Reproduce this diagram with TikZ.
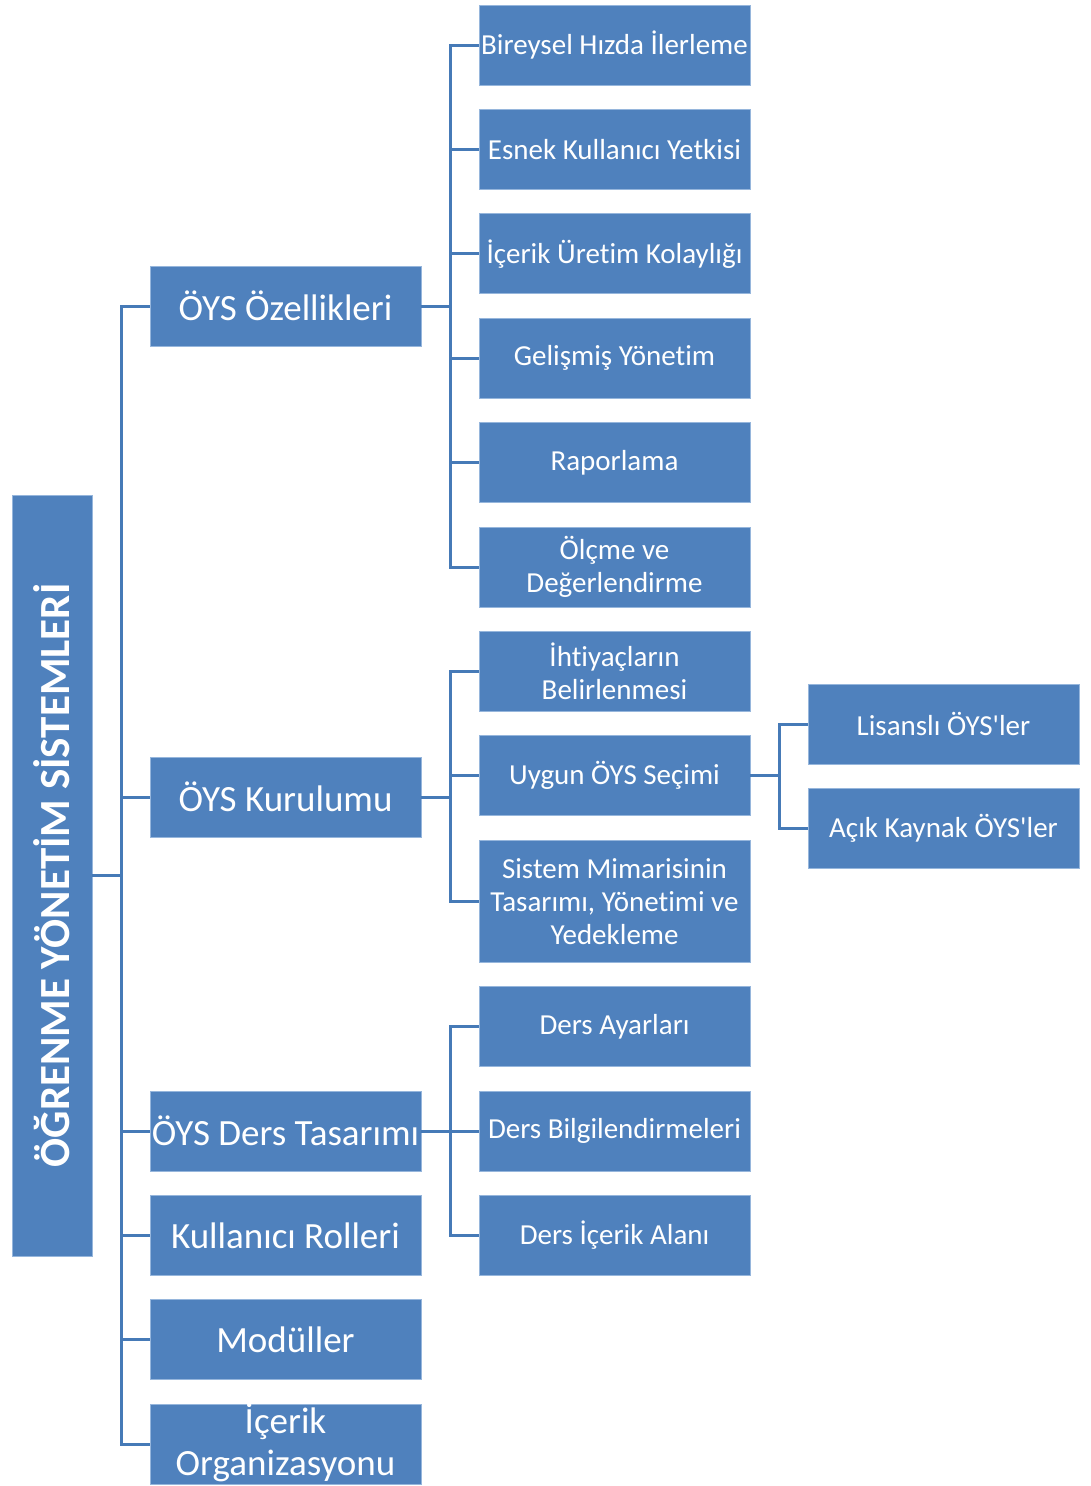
\documentclass[tikz,border=0pt]{standalone}
\usepackage{fontspec}
\setmainfont{Carlito}[Ligatures={TeXOff,CommonOff}]
\usetikzlibrary{positioning}
\definecolor{oysblue}{RGB}{79,129,189}
\definecolor{linkblue}{RGB}{70,122,183}
\definecolor{rimblue}{RGB}{150,182,220}
\tikzset{
  box/.style={fill=oysblue, draw=rimblue, line width=0.8pt, text=white, align=center,
    minimum width=271pt, minimum height=80pt, inner xsep=0pt, inner ysep=0pt},
  topbox/.style={box, font=\fontsize{37}{42}\selectfont},
  subbox/.style={box, font=\fontsize{29}{33}\selectfont},
  link/.style={draw=linkblue, line width=3pt},
}
\begin{document}
\begin{tikzpicture}[x=1pt,y=-1pt]
\useasboundingbox (0,0) rectangle (1091,1486);
% root
\node[box, rotate=90, minimum width=761pt, font=\bfseries\fontsize{43}{46}\selectfont] (root) at (52,875.5) {ÖĞRENME YÖNETİM SİSTEMLERİ};
% second column
\node[subbox] (bir) at (614.5,45) {Bireysel Hızda İlerleme};
\node[subbox, below=23.6pt of bir] (esn) {Esnek Kullanıcı Yetkisi};
\node[subbox, below=23.6pt of esn] (ure) {İçerik Üretim Kolaylığı};
\node[subbox, below=23.6pt of ure] (gel) {Gelişmiş Yönetim};
\node[subbox, below=23.6pt of gel] (rap) {Raporlama};
\node[subbox, below=23.6pt of rap] (olc) {Ölçme ve\\Değerlendirme};
\node[subbox, below=23.6pt of olc] (iht) {İhtiyaçların\\Belirlenmesi};
\node[subbox, below=23.6pt of iht] (uyg) {Uygun ÖYS Seçimi};
\node[subbox, below=23.6pt of uyg, minimum height=122pt] (sis) {Sistem Mimarisinin\\Tasarımı, Yönetimi ve\\Yedekleme};
\node[subbox, below=23.6pt of sis] (aya) {Ders Ayarları};
\node[subbox, below=23.6pt of aya] (bil) {Ders Bilgilendirmeleri};
\node[subbox, below=23.6pt of bil] (dic) {Ders İçerik Alanı};
% first column
\node[topbox] (ozl) at (285.5,306) {ÖYS Özellikleri};
\node[topbox] (kur) at (285.5,797) {ÖYS Kurulumu};
\node[topbox, left=57.2pt of bil] (der) {ÖYS Ders Tasarımı};
\node[topbox, left=57.2pt of dic] (kul) {Kullanıcı Rolleri};
\node[topbox, below=23.6pt of kul] (mod) {Modüller};
\node[topbox, below=23.6pt of mod, text height=71pt, text depth=9pt] (ice) {İçerik\\Organizasyonu};
% third column
\node[subbox] (lis) at (943.5,724) {Lisanslı ÖYS'ler};
\node[subbox, below=23.6pt of lis] (acik) {Açık Kaynak ÖYS'ler};
% connectors
\foreach \kid in {ozl,kur,der,kul,mod,ice}
  \draw[link] (root.south) -- ++(29,0) |- (\kid.west);
\foreach \kid in {bir,esn,ure,gel,rap,olc}
  \draw[link] (ozl.east) -- ++(29,0) |- (\kid.west);
\foreach \kid in {iht,uyg,sis}
  \draw[link] (kur.east) -- ++(29,0) |- (\kid.west);
\foreach \kid in {aya,bil,dic}
  \draw[link] (der.east) -- ++(29,0) |- (\kid.west);
\foreach \kid in {lis,acik}
  \draw[link] (uyg.east) -- ++(29,0) |- (\kid.west);
\end{tikzpicture}
\end{document}
